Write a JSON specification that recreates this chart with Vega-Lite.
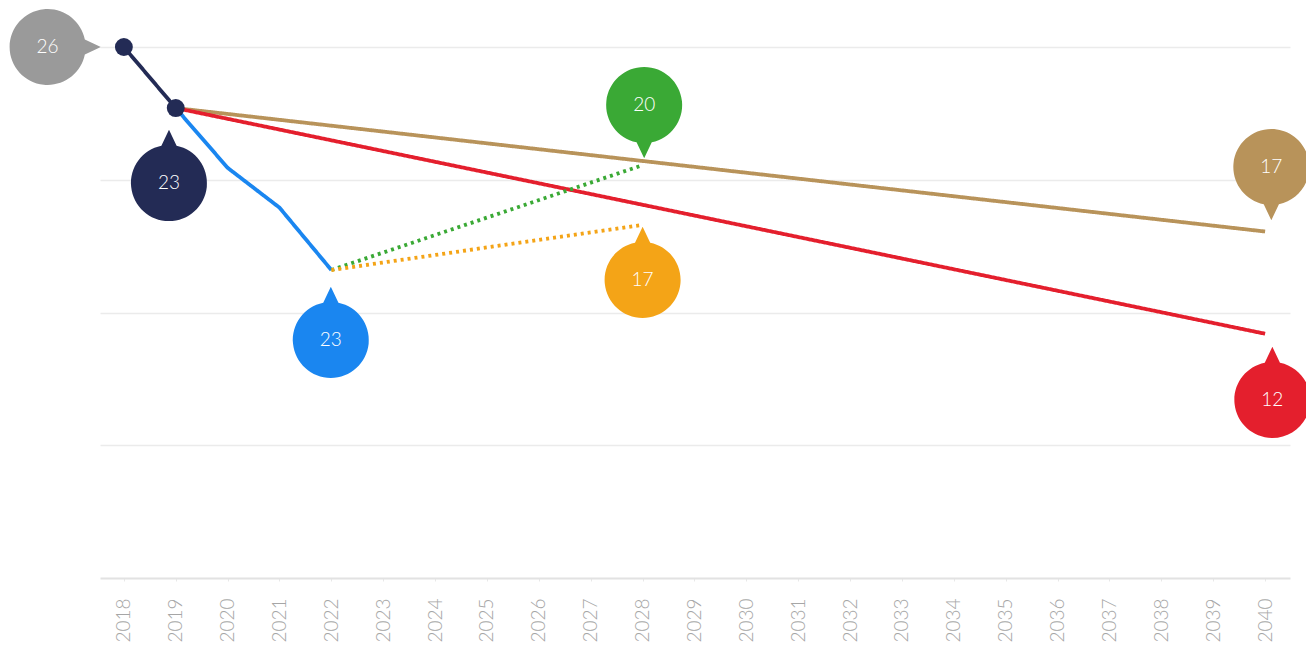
{
  "$schema": "https://vega.github.io/schema/vega-lite/v6.json",
  "width": 1190,
  "height": 531,
  "autosize": {"type": "none"},
  "padding": {"left": 100, "top": 47, "right": 16, "bottom": 75},
  "background": "white",
  "config": {"view": {"stroke": null}, "font": "Lato"},
  "datasets": {
    "lines": [
      {"series": "navy", "style": "solid", "year": 2018, "value": 40},
      {"series": "navy", "style": "solid", "year": 2019, "value": 35.4},
      {"series": "tan", "style": "solid", "year": 2019, "value": 35.4},
      {"series": "tan", "style": "solid", "year": 2040, "value": 26.1},
      {"series": "red", "style": "solid", "year": 2019, "value": 35.4},
      {"series": "red", "style": "solid", "year": 2040, "value": 18.4},
      {"series": "blue", "style": "solid", "year": 2019, "value": 35.4},
      {"series": "blue", "style": "solid", "year": 2020, "value": 30.9},
      {"series": "blue", "style": "solid", "year": 2021, "value": 27.9},
      {"series": "blue", "style": "solid", "year": 2022, "value": 23.2},
      {"series": "green", "style": "dotted", "year": 2022, "value": 23.2},
      {"series": "green", "style": "dotted", "year": 2028, "value": 31.1},
      {"series": "orange", "style": "dotted", "year": 2022, "value": 23.2},
      {"series": "orange", "style": "dotted", "year": 2028, "value": 26.6}
    ],
    "dots": [
      {"year": 2018, "value": 40},
      {"year": 2019, "value": 35.4}
    ],
    "pins": [
      {"series": "gray", "dir": "right", "year": 2016.53, "value": 40, "label": "26"},
      {"series": "navy", "dir": "up", "year": 2018.87, "value": 29.75, "label": "23"},
      {"series": "blue", "dir": "up", "year": 2021.99, "value": 17.93, "label": "23"},
      {"series": "green", "dir": "down", "year": 2028.03, "value": 35.63, "label": "20"},
      {"series": "orange", "dir": "up", "year": 2028.0, "value": 22.45, "label": "17"},
      {"series": "tan", "dir": "down", "year": 2040.12, "value": 30.96, "label": "17"},
      {"series": "red", "dir": "up", "year": 2040.14, "value": 13.41, "label": "12"}
    ]
  },
  "encoding": {
    "x": {
      "field": "year", "type": "quantitative",
      "scale": {"domain": [2017.54, 2040.48], "nice": false, "zero": false},
      "axis": {
        "values": [2018,2019,2020,2021,2022,2023,2024,2025,2026,2027,2028,2029,2030,2031,2032,2033,2034,2035,2036,2037,2038,2039,2040],
        "format": "d", "title": null, "grid": false,
        "labelAngle": 270, "labelAlign": "right", "labelBaseline": "middle",
        "labelPadding": 17, "labelFontSize": 19, "labelColor": "#a6a6a6", "labelFont": "Lato", "labelFontWeight": 300,
        "domainColor": "#e2e2e2", "domainWidth": 2, "ticks": true, "tickColor": "#e8e8e8", "tickSize": 3, "tickOffset": 0
      }
    },
    "y": {
      "field": "value", "type": "quantitative",
      "scale": {"domain": [0, 40], "nice": false},
      "axis": {"values": [10, 20, 30, 40], "labels": false, "ticks": false, "domain": false, "title": null, "grid": true, "gridColor": "#ebebeb", "gridWidth": 1.5}
    }
  },
  "layer": [
    {
      "data": {"name": "lines"},
      "mark": {"type": "line", "strokeWidth": 3.8},
      "encoding": {
        "detail": {"field": "series"},
        "color": {"field": "series", "type": "nominal", "legend": null,
          "scale": {"domain": ["navy","tan","red","blue","green","orange","gray"], "range": ["#232b55","#b8935a","#e41f2d","#1a86f0","#3aa935","#f4a417","#9a9a9a"]}},
        "strokeDash": {"field": "style", "type": "nominal", "legend": null,
          "scale": {"domain": ["solid","dotted"], "range": [[1,0],[3,4]]}}
      }
    },
    {
      "data": {"name": "dots"},
      "mark": {"type": "point", "filled": true, "size": 320, "color": "#232b55", "opacity": 1}
    },
    {
      "data": {"name": "pins"},
      "mark": {"type": "point", "filled": true, "size": 5776, "opacity": 1, "strokeWidth": 0},
      "encoding": {
        "color": {"field": "series", "type": "nominal", "legend": null,
          "scale": {"domain": ["navy","tan","red","blue","green","orange","gray"], "range": ["#232b55","#b8935a","#e41f2d","#1a86f0","#3aa935","#f4a417","#9a9a9a"]}},
        "shape": {"field": "dir", "type": "nominal", "legend": null,
          "scale": {"domain": ["up","down","right"], "range": [
            "M -0.2 -0.98 L 0 -1.4 L 0.2 -0.98 A 1 1 0 1 1 -0.2 -0.98 Z",
            "M 0.2 0.98 L 0 1.4 L -0.2 0.98 A 1 1 0 1 1 0.2 0.98 Z",
            "M 0.98 -0.2 L 1.4 0 L 0.98 0.2 A 1 1 0 1 1 0.98 -0.2 Z"
          ]}}
      }
    },
    {
      "data": {"name": "pins"},
      "mark": {"type": "text", "color": "white", "fontSize": 19, "font": "Lato", "fontWeight": 300, "align": "center", "baseline": "middle"},
      "encoding": {"text": {"field": "label"}}
    }
  ]
}
